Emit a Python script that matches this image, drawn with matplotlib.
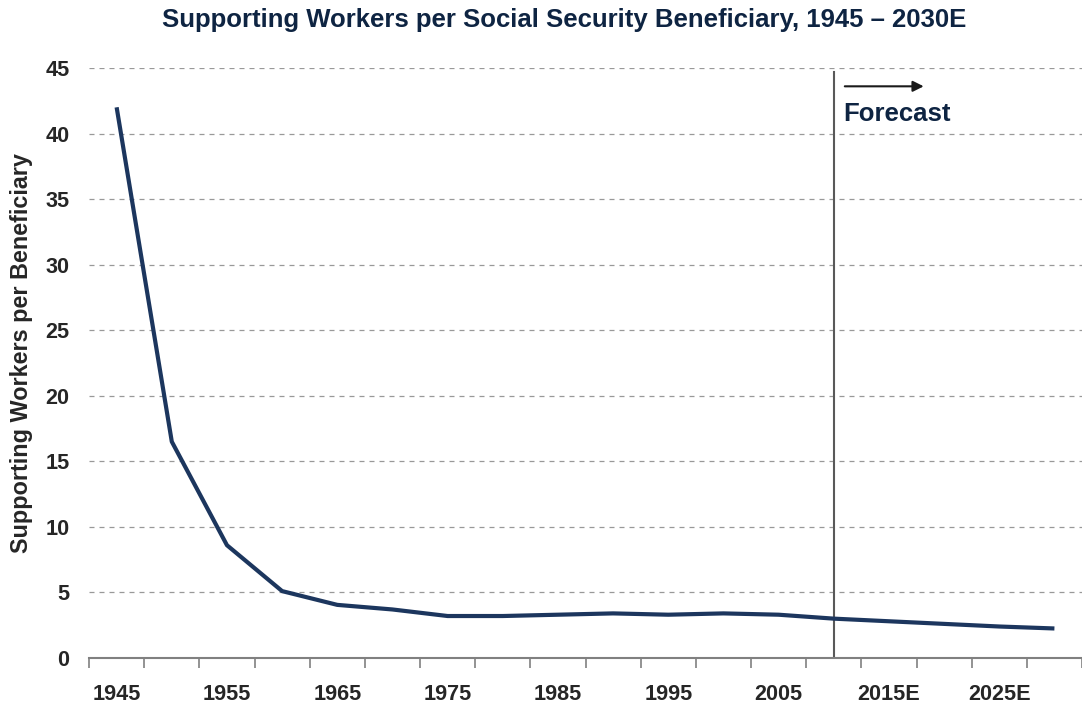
import numpy as np
import matplotlib.pyplot as plt

plt.rcParams['font.family'] = ['Liberation Sans', 'DejaVu Sans']

# Data
years = ['1945', '1950', '1955', '1960', '1965', '1970', '1975', '1980', '1985',
         '1990', '1995', '2000', '2005', '2010', '2015E', '2020E', '2025E', '2030E']
workers = [42.0, 16.5, 8.6, 5.1, 4.05, 3.7, 3.2, 3.2, 3.3,
           3.4, 3.3, 3.4, 3.3, 3.0, 2.8, 2.6, 2.4, 2.25]
forecast_start = '2010'

navy = '#1C365E'
title_navy = '#0E2442'
txt = '#262626'

fig = plt.figure(figsize=(10.82, 7.05), dpi=100)
ax = fig.add_axes([0.0823, 0.0667, 0.9177, 0.8369])

x = np.arange(len(years))
ax.plot(x, workers, color=navy, lw=3, solid_capstyle='butt', zorder=3)

# Forecast divider
fx = years.index(forecast_start)
ax.plot([fx, fx], [0, 44.7], color='#595959', lw=1.5, zorder=2)
ax.annotate('', xy=(14.63, 43.6), xytext=(13.2, 43.6),
            arrowprops=dict(arrowstyle='-|>', color='#1a1a1a', lw=1.5,
                            mutation_scale=16, shrinkA=0, shrinkB=0))
ax.text(13.17, 41.5, 'Forecast', color=title_navy, fontsize=18.5, fontweight='bold',
        va='center', ha='left')

ax.set_ylim(0, 45)
ax.set_xlim(-0.5, 17.38)
ax.set_yticks(np.arange(0, 46, 5))
ax.yaxis.grid(True, linestyle=(0, (4, 4)), color='#999999', lw=0.9)
ax.set_axisbelow(True)

ax.set_xticks(x[::2])
ax.set_xticklabels(years[::2])
ax.set_xticks(np.arange(len(years) + 1) - 0.5, minor=True)
ax.tick_params(axis='x', which='major', length=0, pad=19)
ax.tick_params(axis='x', which='minor', length=7, width=1.2, color='#808080', direction='out')
ax.tick_params(axis='y', length=0, pad=14)
for lab in ax.get_xticklabels() + ax.get_yticklabels():
    lab.set_fontweight('bold')
    lab.set_fontsize(15.6)
    lab.set_color(txt)

for s in ['top', 'right', 'left']:
    ax.spines[s].set_visible(False)
ax.spines['bottom'].set_color('#808080')
ax.spines['bottom'].set_linewidth(1.5)

ax.set_ylabel('Supporting Workers per Beneficiary', fontsize=16.8, fontweight='bold',
              color=txt)
ax.yaxis.set_label_coords(-0.056, 0.517)
fig.text(0.521, 0.971, 'Supporting Workers per Social Security Beneficiary, 1945 \u2013 2030E',
         ha='center', va='center', fontsize=18.5, fontweight='bold', color=title_navy)

fig.savefig('out.png', dpi=100)
